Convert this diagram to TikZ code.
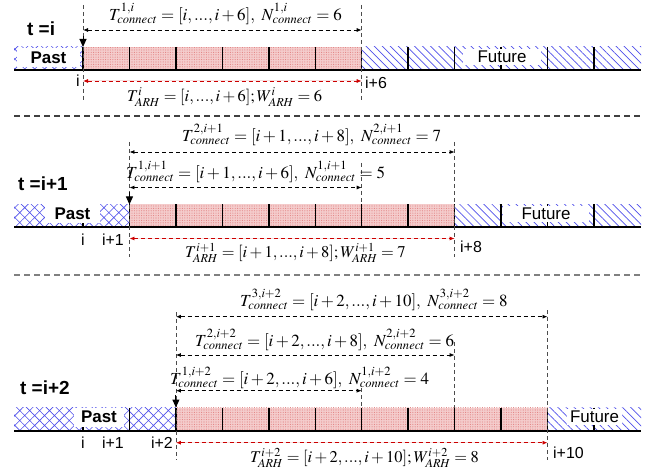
\documentclass[tikz,border=0pt]{standalone}
\usepackage{mathptmx}
\usepackage{fontspec}
\setmainfont{Liberation Sans}
\usetikzlibrary{patterns.meta,arrows.meta}
\definecolor{arhred}{RGB}{204,0,0}
\definecolor{pinkbg}{RGB}{244,204,204}
\definecolor{pinkdot}{RGB}{226,130,130}
\definecolor{hatchblue}{RGB}{80,80,235}
\newcommand\gx[1]{83+46.45*#1}
\newcommand\mybar[4]{%
  \fill[pattern={Hatch[angle=45,distance=7bp,line width=0.6bp]},pattern color=hatchblue] (14,#1) rectangle ({\gx{#3}},#2);
  \fill[pinkbg] ({\gx{#3}},#1) rectangle ({\gx{#4}},#2);
  \fill[pattern={Dots[distance=2.4bp,radius=0.55bp]},pattern color=pinkdot] ({\gx{#3}},#1) rectangle ({\gx{#4}},#2);
  \fill[pattern={Lines[angle=-45,distance=5.7bp,line width=0.7bp]},pattern color=hatchblue] ({\gx{#4}},#1) rectangle (641,#2);
  \foreach \k in {0,...,11} \draw[tickln] ({\gx{\k}},#1) -- ({\gx{\k}},#2);
  \draw[axisln] (14,#2) -- (641,#2);
}
\tikzset{
  sepln/.style={draw=black!50, line width=1.1bp, dash pattern=on 6bp off 4bp},
  vguide/.style={draw=black!70, line width=0.8bp, dash pattern=on 4bp off 3bp},
  conn/.style={draw=black, line width=0.8bp, dash pattern=on 4bp off 3bp, {Latex[length=5bp,width=4bp]}-{Latex[length=5bp,width=4bp]}},
  arh/.style={conn, draw=arhred, fill=arhred},
  downarr/.style={draw=black, line width=1bp, -{Triangle[length=8bp,width=7bp]}},
  axisln/.style={line width=2bp, black},
  tickln/.style={line width=1.5bp, black},
  lbl/.style={font=\fontsize{17}{19}\selectfont, inner sep=0, anchor=west},
  albl/.style={font=\fontsize{16.5}{18}\selectfont, inner sep=0, anchor=west},
  tlbl/.style={font=\fontsize{19}{22}\selectfont\bfseries, anchor=west, inner sep=0},
  idx/.style={font=\fontsize{16}{18}\selectfont, inner sep=0},
  pastbox/.style={fill=white, font=\fontsize{17}{20}\selectfont\bfseries, inner sep=0},
  futbox/.style={fill=white, font=\fontsize{17}{20}\selectfont, inner sep=0},
}
\begin{document}
\begin{tikzpicture}[x=1bp,y=-1bp]
\useasboundingbox (0,0) rectangle (652,470);
\fill[white] (0,0) rectangle (652,470);

% ===== Section 1: t = i =====
\mybar{47}{70}{0}{6}
\node[pastbox, minimum width=62bp, minimum height=19bp] (past1) at (48.5,58) {Past};
\node[futbox, minimum width=78bp, minimum height=16.5bp] (fut1) at (502,56.8) {Future};
\node[tlbl] (t1) at (27,29) {t =i};
\coordinate (v1a) at ({\gx{0}},5);  \coordinate (v1b) at ({\gx{0}},100);
\coordinate (v1c) at ({\gx{6}},5);  \coordinate (v1d) at ({\gx{6}},100);
\draw[vguide] (v1a) -- (v1b);
\draw[vguide] (v1c) -- (v1d);
\coordinate (c1l) at ({\gx{0}},30); \coordinate (c1r) at ({\gx{6}},30);
\draw[conn] (c1l) -- (c1r);
\coordinate (r1l) at ({\gx{0}},81); \coordinate (r1r) at ({\gx{6}},81);
\draw[arh] (r1l) -- (r1r);
\coordinate (d1a) at ({\gx{0}},36); \coordinate (d1b) at ({\gx{0}},47);
\draw[downarr] (d1a) -- (d1b);
\node[lbl] (lc1) at (109,14) {$T^{1,i}_{connect}=[i,...,i+6],\ N^{1,i}_{connect}=6$};
\node[albl] (la1) at (127,97) {$T^{i}_{ARH}=[i,...,i+6];W^{i}_{ARH}=6$};
\node[idx] (i1a) at (78,81) {i};
\node[idx, anchor=west] (i1b) at (365,83) {i+6};

\coordinate (s1a) at (14,116); \coordinate (s1b) at (641,116);
\draw[sepln, draw=black!75] (s1a) -- (s1b);

% ===== Section 2: t = i+1 =====
\mybar{204.5}{227.5}{1}{8}
\node[pastbox, minimum width=55bp, minimum height=19bp] (past2) at (72.5,214) {Past};
\node[futbox, minimum width=86bp, minimum height=16.5bp] (fut2) at (546,214) {Future};
\node[tlbl] (t2) at (18,184) {t =i+1};
\coordinate (v2a) at ({\gx{1}},142); \coordinate (v2b) at ({\gx{1}},257);
\coordinate (v2c) at ({\gx{6}},163); \coordinate (v2d) at ({\gx{6}},204.5);
\coordinate (v2e) at ({\gx{8}},142); \coordinate (v2f) at ({\gx{8}},257);
\draw[vguide] (v2a) -- (v2b);
\draw[vguide] (v2c) -- (v2d);
\draw[vguide] (v2e) -- (v2f);
\coordinate (c2al) at ({\gx{1}},152); \coordinate (c2ar) at ({\gx{8}},152);
\draw[conn] (c2al) -- (c2ar);
\coordinate (c2bl) at ({\gx{1}},187.5); \coordinate (c2br) at ({\gx{6}},187.5);
\draw[conn] (c2bl) -- (c2br);
\coordinate (r2l) at ({\gx{1}},238.5); \coordinate (r2r) at ({\gx{8}},238.5);
\draw[arh] (r2l) -- (r2r);
\coordinate (d2a) at ({\gx{1}},192); \coordinate (d2b) at ({\gx{1}},204.5);
\draw[downarr] (d2a) -- (d2b);
\node[lbl] (lc2a) at (182,135) {$T^{2,i+1}_{connect}=[i+1,...,i+8],\ N^{2,i+1}_{connect}=7$};
\node[lbl] (lc2b) at (126,172) {$T^{1,i+1}_{connect}=[i+1,...,i+6],\ N^{1,i+1}_{connect}=5$};
\node[albl] (la2) at (185,253) {$T^{i+1}_{ARH}=[i+1,...,i+8];W^{i+1}_{ARH}=7$};
\node[idx] (i2a) at (83,240) {i};
\node[idx] (i2b) at (113,240) {i+1};
\node[idx, anchor=west] (i2c) at (460,246.5) {i+8};

\coordinate (s2a) at (14,275); \coordinate (s2b) at (641,275);
\draw[sepln] (s2a) -- (s2b);

% ===== Section 3: t = i+2 =====
\mybar{407.5}{430.5}{2}{10}
\node[pastbox, minimum width=50bp, minimum height=19bp] (past3) at (99,417) {Past};
\node[futbox, minimum width=55bp, minimum height=16.5bp] (fut3) at (594.5,417) {Future};
\node[tlbl] (t3) at (20,388) {t =i+2};
\coordinate (v3a) at ({\gx{2}},312); \coordinate (v3b) at ({\gx{2}},460);
\coordinate (v3c) at ({\gx{6}},388); \coordinate (v3d) at ({\gx{6}},407.5);
\coordinate (v3e) at ({\gx{8}},342); \coordinate (v3f) at ({\gx{8}},407.5);
\coordinate (v3g) at ({\gx{10}},310); \coordinate (v3h) at ({\gx{10}},460);
\draw[vguide] (v3a) -- (v3b);
\draw[vguide] (v3c) -- (v3d);
\draw[vguide] (v3e) -- (v3f);
\draw[vguide] (v3g) -- (v3h);
\coordinate (c3al) at ({\gx{2}},316.7); \coordinate (c3ar) at ({\gx{10}},316.7);
\draw[conn] (c3al) -- (c3ar);
\coordinate (c3bl) at ({\gx{2}},355); \coordinate (c3br) at ({\gx{8}},355);
\draw[conn] (c3bl) -- (c3br);
\coordinate (c3cl) at ({\gx{2}},390.7); \coordinate (c3cr) at ({\gx{6}},390.7);
\draw[conn] (c3cl) -- (c3cr);
\coordinate (r3l) at ({\gx{2}},442.7); \coordinate (r3r) at ({\gx{10}},442.7);
\draw[arh] (r3l) -- (r3r);
\coordinate (d3a) at ({\gx{2}},395); \coordinate (d3b) at ({\gx{2}},407.5);
\draw[downarr] (d3a) -- (d3b);
\node[lbl] (lc3a) at (240,300) {$T^{3,i+2}_{connect}=[i+2,...,i+10],\ N^{3,i+2}_{connect}=8$};
\node[lbl] (lc3b) at (195,340) {$T^{2,i+2}_{connect}=[i+2,...,i+8],\ N^{2,i+2}_{connect}=6$};
\node[lbl] (lc3c) at (170,378) {$T^{1,i+2}_{connect}=[i+2,...,i+6],\ N^{1,i+2}_{connect}=4$};
\node[albl] (la3) at (250,458) {$T^{i+2}_{ARH}=[i+2,...,i+10];W^{i+2}_{ARH}=8$};
\node[idx] (i3a) at (83,443) {i};
\node[idx] (i3b) at (113,443) {i+1};
\node[idx] (i3c) at (162,443) {i+2};
\node[idx, anchor=west] (i3d) at (553,452.5) {i+10};
\end{tikzpicture}
\end{document}
